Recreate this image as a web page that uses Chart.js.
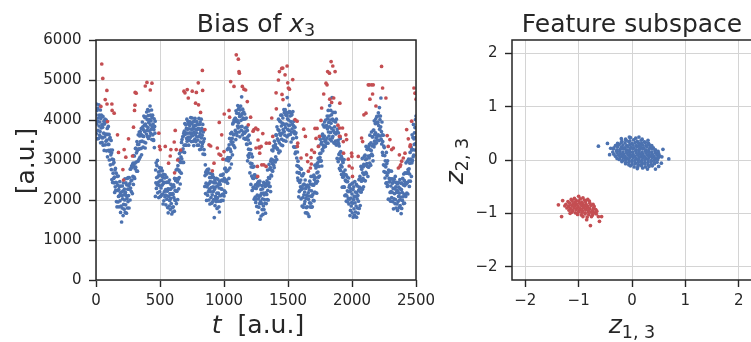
<!DOCTYPE html>
<html>
<head>
<meta charset="utf-8">
<script src="https://cdn.jsdelivr.net/npm/chart.js@4.4.1/dist/chart.umd.min.js"></script>
<style>
  html, body { margin: 0; padding: 0; background: #fff; overflow: hidden; }
  #wrap { position: relative; width: 751px; height: 342px; overflow: hidden; }
  canvas { position: absolute; top: 0; }
  #biasChart { left: 0; }
  #featChart { left: 430px; }
</style>
</head>
<body>
<div id="wrap">
  <canvas id="biasChart" width="460" height="342"></canvas>
  <canvas id="featChart" width="326" height="342"></canvas>
</div>
<script>
// left panel: bias of x3, one sample every tStep a.u. (t = 0 .. 2500)
const tStep = 2;
const biasNormal = [
  4130,3660,4400,3900,4240,3530,3970,4290,3740,4050,3540,4380,3850,4120,3620,3950,3710,4250,3430,4040,3800,4120,3570,3880,3440,
  3550,3820,4090,3370,3900,3670,3970,3240,3900,3580,4020,3380,3650,3950,3470,4000,3230,3640,3500,3790,3080,3640,3390,3840,3240,
  3390,3640,3000,3530,3210,3560,2880,3250,3130,3490,2760,3180,2510,3020,3250,2440,2900,2670,3010,2540,2940,2430,2570,2190,2750,
  2330,2790,2240,2440,2670,1960,2430,1830,2590,2240,2370,1950,2600,2090,2260,1830,2340,2110,2460,1980,2180,1690,2350,1850,2200,
  1450,2110,1800,2350,2030,2220,1610,2430,1890,2130,1770,2270,2000,2530,1690,2190,1880,2430,2110,1670,2380,2040,2540,1800,2270,
  1960,2560,2110,2360,1800,2560,2270,2410,2000,2770,2300,2780,2480,2210,2850,2500,2820,2160,2890,2590,2920,2390,3110,2840,2570,
  3100,2540,2920,2780,3290,2820,3290,2950,3180,2720,3460,3230,2720,3390,2970,3630,3270,3390,3020,3700,3280,3600,3070,3710,3460,
  3640,3290,3790,3130,3620,3470,3950,3600,3830,3320,3760,3590,4100,3450,3870,3710,4060,3300,3900,3430,4080,3850,3650,4200,3740,
  4010,3590,4260,3810,4110,3540,3940,4230,3730,4010,3600,4350,3880,4120,3670,3980,3770,4250,3510,4060,3830,4120,3630,3900,3510,
  3490,3760,4030,3310,3840,3670,3970,2090,2750,2430,2930,2290,2560,2860,2380,2990,2180,2580,2440,2700,2060,2620,2360,2810,2210,
  2480,2730,2090,2620,2300,2800,2120,2490,2370,2730,2150,2570,1900,2410,2640,1980,2440,2210,2550,2080,2630,2120,2260,1880,2440,
  2110,2570,2020,2220,2450,1810,2280,1680,2440,2090,2270,1850,2500,1990,2160,1760,2270,2040,2390,1910,2140,1650,2310,1810,2160,
  1700,2140,1830,2380,2060,2330,1720,2540,2000,2240,1990,2490,2220,2750,1910,2530,2220,2770,2450,2010,2860,2520,3020,2280,2750,
  2560,3160,2710,2960,2400,3230,2940,3080,2670,3440,3030,3510,3210,2940,3580,3280,3600,2940,3670,3370,3720,3190,3910,3640,3370,
  3680,3880,3370,3790,3540,4020,3470,3770,3670,3960,3570,3900,3370,3780,3960,3490,3860,3680,3950,3570,4060,3650,3770,3460,3910,
  3680,4050,3610,3770,3950,3470,3840,3360,3970,3690,3860,3520,4040,3630,3770,3460,3870,3680,3960,3580,3760,3370,3900,3500,3780,
  3790,3370,4040,3590,3890,3260,3660,3950,3450,3730,3270,4020,3550,3790,3340,3620,3410,3890,3150,3700,3460,3750,3260,3530,3140,
  2340,2610,2880,2160,2690,2420,2720,1990,2650,2330,2760,2120,2390,2690,2210,2770,2000,2410,2270,2560,1900,2460,2210,2660,2060,
  2310,2560,1920,2450,2130,2640,1960,2330,2210,2570,2010,2430,1560,2270,2500,1860,2320,2090,2430,1960,2540,2030,2170,1790,2350,
  2060,2520,1970,2170,2400,1830,2300,1700,2460,2110,2390,1970,2620,2110,2280,1990,2500,2270,2620,2140,2480,1990,2650,2150,2500,
  2100,2540,2230,2780,2460,2800,2190,3010,2470,2710,2500,3000,2730,3260,2420,3060,2750,3300,2980,2540,3380,3040,3540,2800,3270,
  3060,3660,3210,3460,2900,3690,3400,3540,3130,3900,3450,3930,3630,3360,4000,3650,3970,3310,4040,3740,4040,3510,4230,3960,3690,
  4170,3610,3990,3850,4360,3800,4270,3930,4160,3700,4320,4090,3580,4250,3830,4350,3990,4110,3740,4580,3840,4160,3630,4270,4020,
  4050,3700,4200,3540,4030,3670,4150,3800,4030,3520,3710,3540,4050,3400,3820,3390,3740,2980,3580,3110,3500,3270,3070,3620,3160,
  3150,2680,3420,2920,3260,2390,2830,3150,2600,2910,2240,3080,2550,2820,2320,2540,2300,2840,2020,2630,2300,2620,2070,2380,1940,
  2020,2290,2560,1840,2370,2120,2420,1690,2350,2030,2460,1820,2090,2390,1910,2470,1520,2110,1970,2260,1600,2160,1910,2360,1760,
  2030,2280,1640,2170,1850,2440,1760,2130,2010,2370,1920,2340,1670,2180,2410,1910,2370,2140,2480,2010,2750,2240,2380,2000,2560,
  2430,2890,2340,2540,2770,2340,2810,2210,2970,2620,3020,2600,3250,2740,2910,2720,3230,3000,3350,2870,3300,2810,3470,2970,3320,
  2950,3390,3080,3630,3310,3620,3010,3830,3290,3530,3260,3760,3490,4020,3180,3740,3430,3980,3660,3220,3960,3620,4120,3380,3850,
  3520,4120,3670,3920,3360,4050,3760,3900,3490,4260,3710,4190,3890,3620,4260,3810,4130,3470,4200,3900,4110,3580,4560,4030,3760,
  4180,3620,4000,3860,4370,3740,4210,3870,4100,3640,4190,3960,3450,4120,3700,4140,3780,3900,3530,4210,3540,3860,3330,3970,3720,
  3670,3320,3820,3160,3650,3200,3680,3330,3560,3050,2860,2690,3200,2550,2970,2490,2840,2080,2680,2210,2670,2440,2240,2790,2330,
  2500,2030,2770,2270,2610,1850,2290,2610,2060,2370,1820,2660,2130,2400,1900,2200,1960,2500,1680,2290,2040,2360,1810,2120,1680,
  1830,2100,2370,1650,2180,2020,2320,1590,2250,1930,2470,1830,2100,2400,1920,2590,1820,2230,2090,2380,1830,2390,2140,2590,1990,
  2370,2620,1980,2510,2190,2870,2190,2560,2440,2800,2420,2840,2170,2680,2910,2470,2930,2700,3040,2570,3350,2840,2980,2600,3160,
  3060,3520,2970,3170,3400,2980,3450,2850,3610,3260,3650,3230,3880,3370,3540,3320,3830,3600,3950,3470,3830,3340,4000,3500,3850,
  3420,3860,3550,4100,3780,4030,3420,4240,3700,3940,3600,4100,3830,4360,3520,4000,3690,4240,3920,3480,4130,3790,4560,3550,4020,
  3590,4190,3740,3990,3430,3980,3690,3830,3420,4190,3470,3950,3650,3380,4020,3380,3700,3040,3770,3470,3490,2960,3680,3410,3140,
  3350,2790,3170,3030,3540,2740,3210,2870,3100,2640,3060,2830,2320,2990,2570,2940,2580,2700,2330,3010,2320,2640,2110,2750,2500,
  2480,2130,2630,1970,2460,2100,2580,2230,2460,1950,2210,2040,2550,1900,2320,2020,2370,1610,2210,1740,2280,2050,1850,2400,1940,
  2150,1680,2420,1920,2260,1570,2010,2330,1780,2090,1620,2460,1930,2200,1700,2090,1850,2390,1570,2180,2030,2350,1800,2110,1670,
  1970,2240,2510,1790,2320,2290,2590,1860,2520,2200,2840,2200,2470,2770,2290,3040,2270,2680,2540,2830,2330,2890,2640,3090,2490,
  2870,3120,2480,3010,2690,3340,2660,3030,2910,3270,2840,3260,2590,3100,3330,2820,3280,3050,3390,2920,3620,3110,3250,2870,3430,
  3240,3700,3150,3350,3580,3110,3580,2980,3740,3390,3750,3330,3980,3470,3640,3400,3910,3680,4030,3550,3920,3430,4090,3590,3940,
  3500,3940,3630,4180,3860,4100,3490,4310,3770,4010,3600,4100,3830,4550,3520,3710,3400,3950,3630,3190,3460,3120,3620,2880,3350,
  2710,3310,2860,3110,2550,2980,2690,2830,2420,3190,2430,2910,2610,2340,2980,2360,2680,2020,2750,2450,2540,2010,2730,2460,2190,
  2530,1970,2350,2210,2720,2060,2530,2190,2420,1960,2520,2290,1780,2450,2030,2520,2160,2280,1910,2590,2010,2330,1800,2440,2190,
  2250,1900,2400,1740,2230,1960,2440,2090,2320,1810,2170,2000,2510,1860,2280,2070,2420,1660,2260,1790,2420,2190,1990,2540,2080,
  2380,1910,2650,2150,2490,1920,2360,2680,2130,2440,2090,2930,2400,2670,2170,2670,2430,2970,2150,2760,2700,3020,2470,2780,2340,
  2650,2920,3190,2470,3000,3020,3320,2590,3250,2930,3630,2990,3260,3560,3080,3890,3120,3530,3390,3680,3250,3810,3560,4010,3410,
  4100
];

// anomalous samples [t, value]
const biasAnomaly = [
  [38,4340],[45,5400],[53,5040],[72,4510],[85,4740],[86,4400],[90,3960],[124,4400],[126,4240],[142,4170],
  [168,3630],[176,3190],[210,2760],[215,2500],[220,3260],[233,3070],[254,3530],[285,3100],[293,3820],[301,4240],
  [304,4370],[306,4690],[314,4670],[385,4850],[398,4940],[424,4750],[437,4920],[491,3670],[496,3340],[502,3260],
  [541,3340],[567,2920],[580,3100],[585,3260],[611,3450],[614,2680],[619,3740],[627,3260],[638,3000],
  [661,3250],[687,4720],[695,4680],[713,4760],[721,4550],[752,4720],[778,4420],[784,4690],[799,4930],[801,4380],
  [817,4190],[831,5240],[833,4740],[851,3760],[883,3380],[896,3350],[909,2730],[922,2920],[948,3300],[961,3150],
  [963,3940],[974,3120],[982,3630],[992,3020],[1000,3210],[1002,4150],[1039,4240],[1044,4070],[1052,4960],[1078,4840],
  [1096,5630],[1112,5520],[1117,5210],[1120,5170],[1143,4840],[1156,4770],[1169,4750],[1182,4460],[1190,3880],[1208,4070],
  [1227,3720],[1234,3760],[1248,3800],[1250,3300],[1261,2840],[1263,2590],[1274,3320],[1279,3170],
  [1264,3760],[1266,3500],[1277,3300],[1290,3340],[1295,2880],[1303,3660],[1311,2880],[1329,2840],[1331,3420],[1355,3420],
  [1373,4050],[1381,3590],[1407,4680],[1409,4280],[1425,5000],[1433,5210],[1451,5290],[1453,4640],[1459,5300],[1461,4510],
  [1477,5130],[1493,5350],[1498,4930],[1503,4800],[1511,4770],[1537,5010],[1555,4010],[1571,3970],[1573,3340],[1576,3420],
  [1602,3050],[1623,3770],[1636,3590],[1646,3130],[1654,2960],[1659,2720],[1675,2800],[1680,3060],[1682,2900],[1685,3250],
  [1706,3190],[1711,3790],[1719,3540],[1727,3790],[1737,3340],[1745,3590],[1758,3990],[1763,4300],[1779,4650],[1797,4920],
  [1805,4880],[1810,5210],[1824,5170],[1826,4520],[1837,5460],[1841,4440],[1850,5350],[1857,4550],[1868,5210],[1890,3870],
  [1902,3590],[1904,3800],
  [1905,4420],[1907,3590],[1926,3800],[1932,3460],[1934,3170],[1952,3630],[1958,3510],[1971,3020],[1978,2850],[1997,3170],
  [1999,3090],[2001,2800],[2004,2590],[2049,3090],[2075,3550],[2083,3460],[2093,4130],[2109,4170],[2127,4880],[2135,4880],
  [2140,4520],[2153,4880],[2161,4650],[2166,4880],[2187,4350],[2231,5340],[2239,4800],[2265,4550],[2275,3610],[2283,3340],
  [2296,3510],[2310,3260],[2323,3300],[2362,2800],[2370,3130],[2375,2840],[2380,2880],[2388,2970],[2401,3050],[2414,3170],
  [2427,3760],[2440,3530],[2453,3340],[2456,3380],[2466,3970],[2484,4800],[2492,4670],[2500,4520]
];

// right panel: feature subspace [z1,3, z2,3]
const featNormal = [
  [-0.12,0.39],[-0.03,0.42],[0.07,0.41],[0.19,0.39],
  [-0.19,0.35],[-0.11,0.37],[-0.04,0.36],[0.03,0.38],[0.1,0.35],[0.17,0.37],[0.23,0.34],
  [-0.27,0.31],[-0.2,0.33],[-0.13,0.32],[-0.06,0.34],[0.0,0.31],[0.06,0.33],[0.12,0.32],[0.18,0.31],[0.25,0.33],[0.31,0.31],
  [-0.31,0.27],[-0.24,0.29],[-0.17,0.28],[-0.1,0.27],[-0.04,0.29],[0.02,0.28],[0.08,0.27],[0.14,0.29],[0.2,0.28],[0.26,0.27],[0.32,0.29],[0.37,0.27],
  [-0.34,0.23],[-0.27,0.25],[-0.2,0.24],[-0.14,0.23],[-0.08,0.25],[-0.02,0.24],[0.04,0.23],[0.1,0.25],[0.16,0.24],[0.22,0.23],[0.28,0.25],[0.34,0.24],[0.4,0.23],
  [-0.35,0.21],[-0.28,0.19],[-0.22,0.2],[-0.16,0.21],[-0.1,0.19],[-0.04,0.2],[0.02,0.21],[0.08,0.19],[0.14,0.2],[0.2,0.21],[0.26,0.19],[0.32,0.2],[0.38,0.21],[0.44,0.19],
  [-0.36,0.15],[-0.29,0.17],[-0.23,0.16],[-0.17,0.15],[-0.11,0.17],[-0.05,0.16],[0.01,0.15],[0.07,0.17],[0.13,0.16],[0.19,0.15],[0.25,0.17],[0.31,0.16],[0.37,0.15],[0.43,0.17],[0.49,0.16],
  [-0.34,0.11],[-0.28,0.13],[-0.22,0.12],[-0.16,0.11],[-0.1,0.13],[-0.04,0.12],[0.02,0.11],[0.08,0.13],[0.14,0.12],[0.2,0.11],[0.26,0.13],[0.32,0.12],[0.38,0.11],[0.44,0.13],[0.5,0.12],
  [-0.31,0.07],[-0.25,0.09],[-0.19,0.08],[-0.13,0.07],[-0.07,0.09],[-0.01,0.08],[0.05,0.07],[0.11,0.09],[0.17,0.08],[0.23,0.07],[0.29,0.09],[0.35,0.08],[0.41,0.07],[0.47,0.09],[0.52,0.08],
  [-0.28,0.03],[-0.22,0.05],[-0.16,0.04],[-0.1,0.03],[-0.04,0.05],[0.02,0.04],[0.08,0.03],[0.14,0.05],[0.2,0.04],[0.26,0.03],[0.32,0.05],[0.38,0.04],[0.44,0.03],[0.5,0.05],
  [-0.24,0.01],[-0.18,-0.01],[-0.12,0.0],[-0.06,0.01],[0.0,-0.01],[0.06,0.0],[0.12,0.01],[0.18,-0.01],[0.24,0.0],[0.3,0.01],[0.36,-0.01],[0.42,0.0],[0.48,0.01],
  [-0.19,-0.03],[-0.12,-0.05],[-0.06,-0.04],[0.0,-0.03],[0.06,-0.05],[0.12,-0.04],[0.18,-0.03],[0.24,-0.05],[0.3,-0.04],[0.36,-0.03],[0.42,-0.05],[0.47,-0.04],
  [-0.12,-0.07],[-0.06,-0.09],[0.0,-0.08],[0.06,-0.07],[0.12,-0.09],[0.18,-0.08],[0.24,-0.07],[0.3,-0.09],[0.36,-0.08],[0.42,-0.07],
  [-0.03,-0.11],[0.04,-0.13],[0.11,-0.12],[0.18,-0.11],[0.25,-0.13],[0.32,-0.12],[0.38,-0.11],
  [0.1,-0.16],[0.2,-0.15],[0.29,-0.17],[0.44,-0.17],
  [-0.63,0.26],[-0.46,0.31],[-0.4,0.22],[-0.42,0.1],[0.69,0.02],[0.58,0.2],[0.56,0.06],[0.55,-0.06],[0.5,-0.12],
  [-0.05,0.43],[0.13,0.43],[-0.2,0.4],[0.3,0.37]
];

const featAnomaly = [
  [-1.0,-0.68],[-0.92,-0.71],[-1.08,-0.72],
  [-1.14,-0.74],[-1.05,-0.75],[-0.97,-0.73],[-0.89,-0.75],[-0.83,-0.74],
  [-1.2,-0.78],[-1.12,-0.77],[-1.06,-0.79],[-1.0,-0.77],[-0.94,-0.79],[-0.87,-0.78],[-0.8,-0.77],
  [-1.24,-0.83],[-1.17,-0.81],[-1.1,-0.82],[-1.04,-0.83],[-0.98,-0.81],[-0.92,-0.82],[-0.86,-0.83],[-0.79,-0.81],[-0.73,-0.83],
  [-1.26,-0.86],[-1.19,-0.87],[-1.13,-0.85],[-1.07,-0.86],[-1.01,-0.87],[-0.95,-0.85],[-0.89,-0.86],[-0.83,-0.87],[-0.77,-0.85],[-0.71,-0.87],
  [-1.22,-0.9],[-1.15,-0.91],[-1.09,-0.89],[-1.03,-0.9],[-0.97,-0.91],[-0.91,-0.89],[-0.85,-0.9],[-0.79,-0.91],[-0.72,-0.9],
  [-1.18,-0.94],[-1.11,-0.95],[-1.05,-0.93],[-0.99,-0.94],[-0.93,-0.95],[-0.87,-0.93],[-0.81,-0.94],[-0.74,-0.95],[-0.68,-0.93],
  [-1.13,-0.98],[-1.06,-0.99],[-1.0,-0.97],[-0.94,-0.98],[-0.88,-0.99],[-0.82,-0.97],[-0.76,-0.98],[-0.7,-0.99],
  [-1.02,-1.02],[-0.95,-1.03],[-0.88,-1.01],[-0.81,-1.02],[-0.74,-1.03],[-0.67,-1.01],
  [-0.92,-1.06],[-0.84,-1.07],[-0.76,-1.06],
  [-1.38,-0.84],[-1.32,-1.06],[-0.57,-1.06],[-0.63,-1.06],[-0.61,-1.15],[-0.78,-1.23],[-1.3,-0.76],[-0.66,-0.96],[-1.16,-1.0],[-0.85,-1.12]
];

const biasTicksX = [0, 500, 1000, 1500, 2000, 2500];
const biasTicksY = [0, 1000, 2000, 3000, 4000, 5000, 6000];
const featTicks = [-2, -1, 0, 1, 2];

const FONT = '"DejaVu Sans", sans-serif';
const INK = '#262626';
const GRID = '#d4d4d4';
const BLUE = '#4c72b0';
const RED = '#c44e52';
const DOT = 1.85;

function fmt(v) {
  return v < 0 ? '\u2212' + Math.abs(v) : String(v);
}

// draws runs of text: [str, 'n' | 'i' | 's'] (normal, italic, subscript), centred on x
function drawRuns(ctx, runs, x, y, size, subShift) {
  const fontOf = k => k === 's' ? `${size * 0.7}px ${FONT}` : (k === 'i' ? `italic ${size}px ${FONT}` : `${size}px ${FONT}`);
  let w = 0;
  runs.forEach(r => { ctx.font = fontOf(r[1]); w += ctx.measureText(r[0]).width; });
  let cx = x - w / 2;
  ctx.textAlign = 'left';
  ctx.textBaseline = 'alphabetic';
  runs.forEach(r => {
    ctx.font = fontOf(r[1]);
    ctx.fillText(r[0], cx, r[1] === 's' ? y + subShift : y);
    cx += ctx.measureText(r[0]).width;
  });
}

function labelsPlugin(cfg) {
  return {
    id: 'labels',
    afterDraw(chart) {
      const { ctx, chartArea: a } = chart;
      ctx.save();
      ctx.strokeStyle = INK;
      ctx.lineWidth = 1.5;
      ctx.strokeRect(a.left, a.top, a.right - a.left, a.bottom - a.top);
      ctx.fillStyle = INK;
      drawRuns(ctx, cfg.title, cfg.titleX, 32, 25, 3.5);
      drawRuns(ctx, cfg.xLabel, cfg.xLabelX, 333, 25, 4.5);
      ctx.translate(cfg.yLabelX, 161);
      ctx.rotate(-Math.PI / 2);
      drawRuns(ctx, cfg.yLabel, 0, 0, 25, 4.5);
      ctx.restore();
    }
  };
}

function axis(min, max, ticks, size, horizontal) {
  return {
    type: 'linear',
    min: min,
    max: max,
    afterBuildTicks: s => { s.ticks = ticks.map(v => ({ value: v })); },
    afterFit: s => { if (horizontal) s.height = size; else s.width = size; },
    border: { display: false },
    grid: { color: GRID, lineWidth: 1, tickColor: INK, tickLength: 7, tickWidth: 1.4 },
    ticks: {
      color: INK,
      font: { family: FONT, size: 15 },
      padding: horizontal ? 5 : 7.5,
      maxRotation: 0,
      autoSkip: false,
      callback: v => fmt(v)
    }
  };
}

const common = {
  responsive: false,
  animation: false,
  events: [],
  plugins: { legend: { display: false }, tooltip: { enabled: false } }
};

new Chart(document.getElementById('biasChart'), {
  type: 'scatter',
  data: {
    datasets: [
      { data: biasAnomaly.map(p => ({ x: p[0], y: p[1] })), backgroundColor: RED, pointRadius: DOT, borderWidth: 0 },
      { data: biasNormal.map((v, i) => ({ x: i * tStep, y: v })), backgroundColor: BLUE, pointRadius: DOT, borderWidth: 0 }
    ]
  },
  options: Object.assign({}, common, {
    layout: { padding: { top: 40, right: 44, left: 0, bottom: 0 } },
    scales: {
      x: axis(0, 2500, biasTicksX, 62, true),
      y: axis(0, 6000, biasTicksY, 96, false)
    }
  }),
  plugins: [labelsPlugin({
    title: [['Bias of ', 'n'], ['x', 'i'], ['3', 's']], titleX: 256,
    xLabel: [['t', 'i'], ['  [a.u.]', 'n']], xLabelX: 258,
    yLabel: [['[a.u.]', 'n']], yLabelX: 34
  })]
});

new Chart(document.getElementById('featChart'), {
  type: 'scatter',
  data: {
    datasets: [
      { data: featAnomaly.map(p => ({ x: p[0], y: p[1] })), backgroundColor: RED, pointRadius: DOT, borderWidth: 0 },
      { data: featNormal.map(p => ({ x: p[0], y: p[1] })), backgroundColor: BLUE, pointRadius: DOT, borderWidth: 0 }
    ]
  },
  options: Object.assign({}, common, {
    layout: { padding: { top: 40, right: 0, left: 0, bottom: 0 } },
    scales: {
      x: axis(-2.25, 2.25, featTicks, 62, true),
      y: axis(-2.25, 2.25, featTicks, 82, false)
    }
  }),
  plugins: [labelsPlugin({
    title: [['Feature subspace', 'n']], titleX: 202,
    xLabel: [['z', 'i'], ['1, 3', 's']], xLabelX: 202,
    yLabel: [['z', 'i'], ['2, 3', 's']], yLabelX: 33
  })]
});
</script>
</body>
</html>
